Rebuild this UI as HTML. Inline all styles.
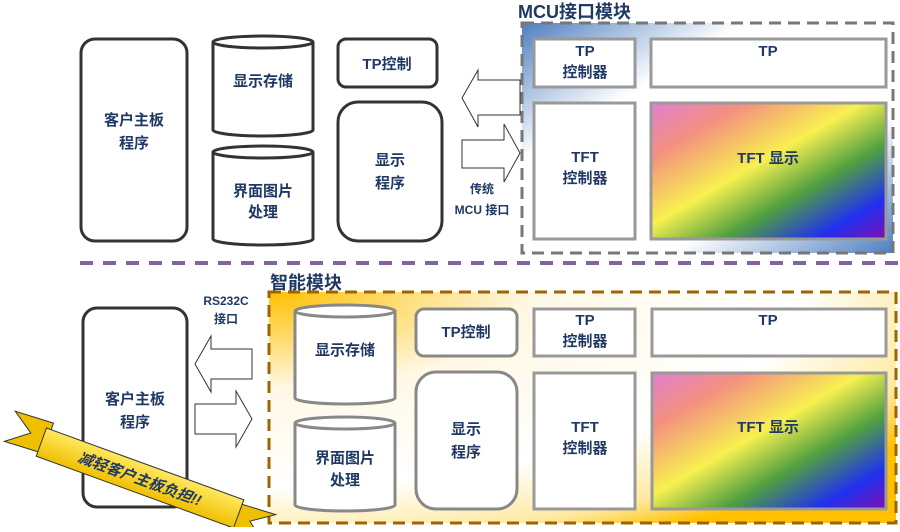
<!DOCTYPE html>
<html><head><meta charset="utf-8"><style>
html,body{margin:0;padding:0;background:#fff;}
svg text{font-family:"Liberation Sans","Noto Sans CJK SC",sans-serif;font-weight:bold;fill:#1f3864;}
</style></head><body>
<svg width="900" height="527" viewBox="0 0 900 527" xmlns="http://www.w3.org/2000/svg">
<defs>
<linearGradient id="blue" x1="0" y1="0" x2="1" y2="1">
<stop offset="0" stop-color="#4f7fc0"/><stop offset="0.3" stop-color="#fff"/><stop offset="0.7" stop-color="#fff"/><stop offset="1" stop-color="#4f7fc0"/>
</linearGradient>
<radialGradient id="gold" cx="0" cy="0" r="1.2" gradientUnits="objectBoundingBox">
<stop offset="0" stop-color="#ffc000"/><stop offset="0.35" stop-color="#fff8e6"/><stop offset="0.7" stop-color="#fff"/><stop offset="0.9" stop-color="#ffe9a0"/><stop offset="1" stop-color="#ffc000"/>
</radialGradient>
<linearGradient id="rb" x1="0" y1="0" x2="1" y2="1">
<stop offset="0" stop-color="#e080d0"/><stop offset="0.2" stop-color="#f49080"/><stop offset="0.45" stop-color="#f8f050"/><stop offset="0.65" stop-color="#50a040"/><stop offset="0.85" stop-color="#2030f0"/><stop offset="1" stop-color="#8010b0"/>
</linearGradient>
<linearGradient id="rib" x1="0" y1="0" x2="0" y2="1">
<stop offset="0" stop-color="#ffe860"/><stop offset="1" stop-color="#f0c000"/>
</linearGradient>
</defs>

<!-- TOP -->
<text x="518" y="18" font-size="18">MCU接口模块</text>
<rect x="522" y="23" width="371" height="230" fill="url(#blue)" stroke="#777" stroke-width="3" stroke-dasharray="12,7"/>
<rect x="81" y="39" width="106" height="202" rx="14" fill="#fff" stroke="#333" stroke-width="3"/>
<text x="134" y="125" font-size="15" text-anchor="middle">客户主板</text>
<text x="134" y="148" font-size="15" text-anchor="middle">程序</text>

<g fill="#fff" stroke="#333" stroke-width="3">
<path d="M213 42 V130 A50 6 0 0 0 313 130 V42"/><ellipse cx="263" cy="42" rx="50" ry="6"/>
<path d="M213 152 V239 A50 6 0 0 0 313 239 V152"/><ellipse cx="263" cy="152" rx="50" ry="6"/>
<rect x="338" y="39" width="99" height="48" rx="8"/>
<rect x="338" y="102" width="104" height="139" rx="20"/>
</g>
<text x="263" y="86" font-size="15" text-anchor="middle">显示存储</text>
<text x="263" y="196" font-size="15" text-anchor="middle">界面图片</text>
<text x="263" y="217" font-size="15" text-anchor="middle">处理</text>
<text x="387" y="69" font-size="15" text-anchor="middle">TP控制</text>
<text x="390" y="165" font-size="15" text-anchor="middle">显示</text>
<text x="390" y="188" font-size="15" text-anchor="middle">程序</text>

<g fill="#fff" stroke="#333" stroke-width="1">
<path d="M520 80 H478 V70 L462 98 L478 127 V115 H520 Z"/>
<path d="M462 140 H504 V124 L520 153 L504 182 V168 H462 Z"/>
</g>
<text x="482" y="193" font-size="12" text-anchor="middle">传统</text>
<text x="482" y="214" font-size="12" text-anchor="middle">MCU 接口</text>

<g stroke="#999" stroke-width="3">
<rect x="534" y="39" width="101" height="48" fill="#fff"/>
<rect x="651" y="39" width="235" height="48" fill="#fff"/>
<rect x="534" y="103" width="101" height="136" fill="#fff"/>
<rect x="651" y="103" width="235" height="136" fill="url(#rb)"/>
</g>
<text x="585" y="56" font-size="15" text-anchor="middle">TP</text>
<text x="585" y="77" font-size="15" text-anchor="middle">控制器</text>
<text x="768" y="56" font-size="15" text-anchor="middle">TP</text>
<text x="585" y="162" font-size="15" text-anchor="middle">TFT</text>
<text x="585" y="183" font-size="15" text-anchor="middle">控制器</text>
<text x="768" y="163" font-size="15" text-anchor="middle">TFT 显示</text>

<line x1="80" y1="263" x2="900" y2="263" stroke="#8064a2" stroke-width="4" stroke-dasharray="13,10"/>

<!-- BOTTOM -->
<text x="270" y="289" font-size="18">智能模块</text>
<rect x="269" y="292" width="627" height="231" fill="url(#gold)" stroke="#9c6500" stroke-width="3" stroke-dasharray="12,7"/>
<rect x="83" y="308" width="104" height="199" rx="14" fill="#fff" stroke="#333" stroke-width="3"/>
<text x="135" y="404" font-size="15" text-anchor="middle">客户主板</text>
<text x="135" y="427" font-size="15" text-anchor="middle">程序</text>
<text x="226" y="305" font-size="12" text-anchor="middle">RS232C</text>
<text x="226" y="323" font-size="12" text-anchor="middle">接口</text>
<g fill="#fff" stroke="#333" stroke-width="1">
<path d="M252 349 H211 V336 L195 364 L211 392 V379 H252 Z"/>
<path d="M195 404 H236 V391 L252 419 L236 447 V434 H195 Z"/>
</g>

<g fill="#fff" stroke="#888" stroke-width="3">
<path d="M295 311 V398 A50 6 0 0 0 395 398 V311"/><ellipse cx="345" cy="311" rx="50" ry="6"/>
<path d="M295 423 V505 A50 6 0 0 0 395 505 V423"/><ellipse cx="345" cy="423" rx="50" ry="6"/>
<rect x="416" y="309" width="101" height="47" rx="8"/>
<rect x="416" y="372" width="101" height="137" rx="20"/>
</g>
<text x="345" y="355" font-size="15" text-anchor="middle">显示存储</text>
<text x="345" y="463" font-size="15" text-anchor="middle">界面图片</text>
<text x="345" y="485" font-size="15" text-anchor="middle">处理</text>
<text x="466" y="337" font-size="15" text-anchor="middle">TP控制</text>
<text x="466" y="434" font-size="15" text-anchor="middle">显示</text>
<text x="466" y="457" font-size="15" text-anchor="middle">程序</text>

<g stroke="#999" stroke-width="3">
<rect x="534" y="309" width="101" height="47" fill="#fff"/>
<rect x="652" y="309" width="234" height="47" fill="#fff"/>
<rect x="534" y="373" width="101" height="136" fill="#fff"/>
<rect x="652" y="373" width="234" height="136" fill="url(#rb)"/>
</g>
<text x="585" y="325" font-size="15" text-anchor="middle">TP</text>
<text x="585" y="346" font-size="15" text-anchor="middle">控制器</text>
<text x="768" y="325" font-size="15" text-anchor="middle">TP</text>
<text x="585" y="432" font-size="15" text-anchor="middle">TFT</text>
<text x="585" y="453" font-size="15" text-anchor="middle">控制器</text>
<text x="768" y="432" font-size="15" text-anchor="middle">TFT 显示</text>

<!-- ribbon -->
<g transform="translate(140,478) rotate(20)">
<path d="M-100 -22 L-140 -20 L-118 -5 L-140 12 L-100 10 Z" fill="#f0c000" stroke="#333" stroke-width="1"/>
<path d="M100 -10 L140 -12 L118 3 L140 20 L100 22 Z" fill="#f0c000" stroke="#333" stroke-width="1"/>
<rect x="-105" y="-15" width="210" height="30" fill="url(#rib)" stroke="#333" stroke-width="1"/>
<text x="0" y="6" font-size="15" text-anchor="middle" font-style="italic">减轻客户主板负担!!</text>
</g>
</svg>
</body></html>
